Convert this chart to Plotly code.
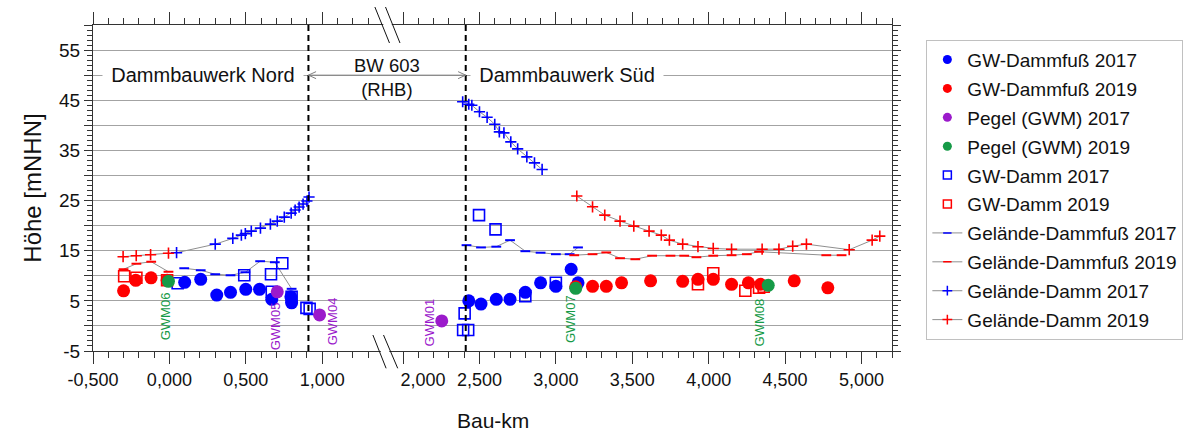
import plotly.graph_objects as go

# ---------------- data: Bau-km and Höhe [mNHN] ----------------
# GW-Dammfuß (groundwater at dam toe)
gwdf17_km = [0.10, 0.205, 0.31, 0.40, 0.50, 0.59, 0.67, 0.795, 0.80,
             2.43, 2.51, 2.61, 2.70, 2.80, 2.90, 3.00, 3.10, 3.145]
gwdf17_h = [8.7, 9.3, 6.15, 6.7, 7.3, 7.3, 5.3, 5.8, 4.6,
            5.0, 4.35, 5.3, 5.3, 6.7, 8.6, 7.9, 11.3, 8.6]
gwdf19_km = [-0.30, -0.22, -0.12, -0.015,
             3.13, 3.24, 3.33, 3.43, 3.62, 3.83, 3.93, 4.03, 4.15, 4.26, 4.34, 4.56, 4.78]
gwdf19_h = [7.0, 9.1, 9.6, 9.1,
            7.8, 7.9, 7.9, 8.6, 9.0, 8.9, 9.3, 9.3, 8.3, 8.6, 8.3, 9.0, 7.6]

# Pegel (GWM)
pegel17_km = [0.706, 0.983, 2.253]
pegel17_h = [6.8, 2.2, 1.0]
pegel17_names = ["GWM05", "GWM04", "GWM01"]
pegel19_km = [-0.006, 3.13, 4.39]
pegel19_h = [8.9, 7.5, 8.1]
pegel19_names = ["GWM06", "GWM07", "GWM08"]

# GW-Damm (groundwater in dam body)
gwd17_km = [0.054, 0.49, 0.665, 0.739, 0.67, 0.80, 0.897, 0.918,
            2.393, 2.403, 2.426, 2.497, 2.605, 2.80, 3.00]
gwd17_h = [8.5, 10.1, 10.3, 12.5, 6.8, 5.8, 3.6, 3.4,
           -0.8, 2.5, -0.8, 22.1, 19.25, 5.95, 8.6]
gwd19_km = [-0.296, -0.216, -0.015, 3.93, 4.03, 4.24, 4.33, 4.36]
gwd19_h = [9.9, 9.6, 9.1, 8.3, 10.5, 7.0, 7.6, 7.8]

# Gelände-Dammfuß (terrain at dam toe)
gdf17_km = [0.097, 0.205, 0.30, 0.40, 0.497, 0.594, 0.69, 0.80, None,
            2.415, 2.51, 2.61, 2.70, 2.80, 2.90, 3.00, 3.09, 3.145]
gdf17_h = [11.5, 11.1, 10.3, 10.1, 10.7, 12.9, 12.7, 7.4, None,
           16.1, 15.65, 15.8, 17.1, 14.9, 14.6, 14.3, 14.3, 15.65]
gdf19_km = [-0.30, -0.216, -0.119, -0.006, None,
            3.12, 3.24, 3.33, 3.42, 3.52, 3.63, 3.75, 3.84, 3.92, 4.03, 4.15, 4.25,
            4.33, 4.77, 4.87]
gdf19_h = [11.3, 12.4, 12.8, 10.8, None,
           14.1, 14.3, 14.65, 13.5, 13.3, 14.0, 14.0, 14.0, 13.7, 14.0, 14.1, 14.3,
           14.8, 14.1, 14.1]

# Gelände-Damm (terrain at dam crest)
gd17_km = [0.047, 0.30, 0.415, 0.471, 0.497, 0.536, 0.596, 0.661, 0.706, 0.752,
           0.797, 0.823, 0.849, 0.875, 0.90, 0.914, None,
           2.39, 2.43, 2.45, 2.50, 2.55, 2.60, 2.63, 2.66, 2.705, 2.75, 2.81, 2.86, 2.91]
gd17_h = [14.6, 16.3, 17.45, 18.1, 18.4, 18.9, 19.5, 20.3, 20.9, 21.7,
          22.5, 23.1, 23.7, 24.3, 24.9, 25.7, None,
          44.7, 44.2, 44.0, 42.7, 41.6, 40.2, 38.7, 38.5, 36.7, 35.3, 33.7, 32.5, 31.2]
gd19_km = [-0.303, -0.217, -0.123, -0.006, None,
           3.137, 3.24, 3.32, 3.42, 3.51, 3.61, 3.69, 3.743, 3.83, 3.93, 4.03, 4.15,
           4.35, 4.46, 4.55, 4.64, 4.92, 5.07, 5.12]
gd19_h = [13.8, 14.0, 14.2, 14.5, None,
          25.9, 23.75, 22.1, 20.9, 19.9, 18.9, 18.1, 17.1, 16.3, 15.8, 15.45, 15.3,
          15.3, 15.3, 15.9, 16.3, 15.2, 17.1, 17.9]

x_major_km = [-0.5, 0.0, 0.5, 1.0, 2.0, 2.5, 3.0, 3.5, 4.0, 4.5, 5.0]
x_major_text = ["-0,500", "0,000", "0,500", "1,000", "\u00a0" * 8 + "2,000",
                "2,500", "3,000", "3,500", "4,000", "4,500", "5,000"]
y_grid_vals = [-5, 0, 5, 10, 15, 20, 25, 30, 35, 40, 45, 50, 55, 60]
y_label_vals = [-5, 5, 15, 25, 35, 45, 55]

# section markers
nord_end_km = 0.91
sued_start_km = 2.41

# ---------------- broken x-axis mapping ----------------
GAP = 0.4705   # part of the Bau-km axis cut out by the break (approx. 1.42 - 1.89)


def xt(v):
    if v is None:
        return None
    return v if v < 1.6 else v - GAP


def xs(lst):
    return [xt(v) for v in lst]


BLUE = "#0000FF"
RED = "#FF0000"
PURPLE = "#9B1ACB"
GREEN = "#169A47"
LGRAY = "#8f8f8f"
AGRAY = "#808080"
FONT = "Liberation Sans, Arial, sans-serif"

fig = go.Figure()

# terrain lines (drawn first, below points)
for km, h, col, sym, size, lw in [
    (gdf17_km, gdf17_h, BLUE, "line-ew", 7, 2),
    (gdf19_km, gdf19_h, RED, "line-ew", 7, 2),
    (gd17_km, gd17_h, BLUE, "cross-thin", 8, 1.6),
    (gd19_km, gd19_h, RED, "cross-thin", 8, 1.6),
]:
    fig.add_trace(go.Scatter(
        x=xs(km), y=h, mode="lines+markers", showlegend=False,
        line=dict(color=LGRAY, width=1), connectgaps=False,
        marker=dict(symbol=sym, size=size, color=col, line=dict(color=col, width=lw)),
        hoverinfo="skip"))

# open squares
for km, h, col in [(gwd17_km, gwd17_h, BLUE), (gwd19_km, gwd19_h, RED)]:
    fig.add_trace(go.Scatter(
        x=xs(km), y=h, mode="markers", showlegend=False,
        marker=dict(symbol="square-open", size=11, color=col, line=dict(color=col, width=1.6))))

# filled circles
for km, h, col in [(gwdf17_km, gwdf17_h, BLUE), (gwdf19_km, gwdf19_h, RED),
                   (pegel17_km, pegel17_h, PURPLE), (pegel19_km, pegel19_h, GREEN)]:
    fig.add_trace(go.Scatter(
        x=xs(km), y=h, mode="markers", showlegend=False,
        marker=dict(symbol="circle", size=13, color=col, line=dict(width=0))))

# legend-only entries (smaller symbols as in the original legend)
legend_items = [
    ("GW-Dammfuß 2017", "markers", "circle", BLUE, 9),
    ("GW-Dammfuß 2019", "markers", "circle", RED, 9),
    ("Pegel (GWM) 2017", "markers", "circle", PURPLE, 9),
    ("Pegel (GWM) 2019", "markers", "circle", GREEN, 9),
    ("GW-Damm 2017", "markers", "square-open", BLUE, 8),
    ("GW-Damm 2019", "markers", "square-open", RED, 8),
    ("Gelände-Dammfuß 2017", "lines+markers", "line-ew", BLUE, 6),
    ("Gelände-Dammfuß 2019", "lines+markers", "line-ew", RED, 6),
    ("Gelände-Damm 2017", "lines+markers", "cross-thin", BLUE, 7),
    ("Gelände-Damm 2019", "lines+markers", "cross-thin", RED, 7),
]
for i, (name, mode, sym, col, size) in enumerate(legend_items):
    fig.add_trace(go.Scatter(
        x=[None], y=[None], name=name, mode=mode, legendgroup="g%d" % i,
        line=dict(color=LGRAY, width=1),
        marker=dict(symbol=sym, size=size, color=col,
                    line=dict(color=col, width=1.5 if sym != "circle" else 0))))

# ---------------- annotations ----------------
ann = []
# well labels (rotated, below each gauge point)
label_pos = {"GWM06": (-0.026, 2.0), "GWM05": (0.70, 0.0), "GWM04": (1.07, 0.9),
             "GWM01": (2.17, 0.7), "GWM07": (3.10, 1.4), "GWM08": (4.33, 0.7)}
for names, col in [(pegel17_names, PURPLE), (pegel19_names, GREEN)]:
    for n in names:
        lx, ly = label_pos[n]
        ann.append(dict(x=xt(lx), y=ly, text=n, showarrow=False, textangle=-90,
                        font=dict(family=FONT, size=13, color=col)))

ann.append(dict(x=xt(0.22), y=50, text="Dammbauwerk Nord", showarrow=False,
                font=dict(family=FONT, size=20, color="#111111"),
                bgcolor="white", borderpad=2, width=196))
ann.append(dict(x=xt(3.076), y=50, text="Dammbauwerk Süd", showarrow=False,
                font=dict(family=FONT, size=20, color="#111111"),
                bgcolor="white", borderpad=2, width=188))
mid = (xt(nord_end_km) + xt(sued_start_km)) / 2
ann.append(dict(x=mid, y=49.5, text="BW 603<br>(RHB)", showarrow=False,
                font=dict(family=FONT, size=18.5, color="#111111")))
# x-axis title
ann.append(dict(x=0.5, y=-0.212, xref="paper", yref="paper", text="Bau-km",
                showarrow=False, xanchor="center", yanchor="middle",
                font=dict(family=FONT, size=21, color="#111111")))

# ---------------- shapes ----------------
shapes = []
for km in (nord_end_km, sued_start_km):
    shapes.append(dict(type="line", xref="x", yref="y", x0=xt(km), x1=xt(km),
                       y0=-5, y1=60, line=dict(color="black", width=2, dash="6px,4px")))
# double arrow between the two sections (open chevron heads)
xa, xb = xt(nord_end_km), xt(sued_start_km)
shapes.append(dict(type="line", xref="x", yref="y", x0=xa, x1=xb, y0=50, y1=50,
                   line=dict(color=AGRAY, width=1)))
dxh, dyh = 0.05, 0.7
shapes.append(dict(type="path", xref="x", yref="y",
                   path="M %f,%f L %f,%f L %f,%f" % (xa + dxh, 50 + dyh, xa, 50, xa + dxh, 50 - dyh),
                   line=dict(color=AGRAY, width=1)))
shapes.append(dict(type="path", xref="x", yref="y",
                   path="M %f,%f L %f,%f L %f,%f" % (xb - dxh, 50 + dyh, xb, 50, xb - dxh, 50 - dyh),
                   line=dict(color=AGRAY, width=1)))

# axis-break marks
PW, PH = 805.0, 326.0


def px(X):
    return (X - 93) / PW


def py(Y):
    return (351 - Y) / PH


# white gaps in the axis lines
shapes.append(dict(type="line", xref="paper", yref="paper", x0=px(385.5), x1=px(394),
                   y0=1, y1=1, line=dict(color="white", width=3), layer="above"))
shapes.append(dict(type="line", xref="paper", yref="paper", x0=px(383), x1=px(391.5),
                   y0=0, y1=0, line=dict(color="white", width=3), layer="above"))
for (x0, y0, x1, y1) in [(377, 7, 391.7, 43), (387.7, 7, 402.3, 43),
                         (375, 335, 388.3, 368.3), (385.7, 335, 400, 368.3)]:
    shapes.append(dict(type="line", xref="paper", yref="paper",
                       x0=px(x0), y0=py(y0), x1=px(x1), y1=py(y1),
                       line=dict(color="#111111", width=1), layer="above"))

minor_x = [round(-0.5 + 0.1 * i, 1) for i in range(19)] + [round(2.0 + 0.1 * i, 1) for i in range(33)]

fig.update_layout(
    width=1195, height=433,
    margin=dict(l=93, r=297, t=25, b=82),
    paper_bgcolor="white", plot_bgcolor="white",
    font=dict(family=FONT, size=18, color="#111111"),
    showlegend=True,
    legend=dict(x=1.043, y=0.955, xanchor="left", yanchor="top",
                bordercolor="#c0c0c0", borderwidth=1, bgcolor="white",
                font=dict(family=FONT, size=19, color="#111111"),
                tracegroupgap=1.2, traceorder="grouped"),
    annotations=ann, shapes=shapes,
    xaxis=dict(range=[xt(-0.5), xt(5.2)], tickmode="array",
               tickvals=xs(x_major_km), ticktext=x_major_text,
               ticks="outside", ticklen=12, tickwidth=1, tickcolor="#333333",
               showline=True, linecolor="#333333", linewidth=1, mirror="ticks",
               showgrid=False, zeroline=False, automargin=False,
               tickfont=dict(family=FONT, size=18, color="#111111"),
               minor=dict(tickmode="array", tickvals=xs(minor_x), ticks="outside",
                          ticklen=6, tickcolor="#333333", showgrid=False)),
    yaxis=dict(range=[-5, 60], tickmode="array", tickvals=y_grid_vals,
               ticktext=[str(v) if v in y_label_vals else "" for v in y_grid_vals],
               ticks="outside", ticklen=8, tickwidth=1, tickcolor="#333333",
               showline=True, linecolor="#333333", linewidth=1, mirror="ticks",
               showgrid=True, gridcolor="#a3a3a3", gridwidth=1, zeroline=False,
               automargin=False,
               tickfont=dict(family=FONT, size=19, color="#111111"),
               minor=dict(dtick=1, tick0=0, ticks="outside", ticklen=5,
                          tickcolor="#333333", showgrid=False),
               title=dict(text="Höhe [mNHN]", font=dict(family=FONT, size=24, color="#111111"),
                          standoff=10)),
)

fig.write_html("out.html")
